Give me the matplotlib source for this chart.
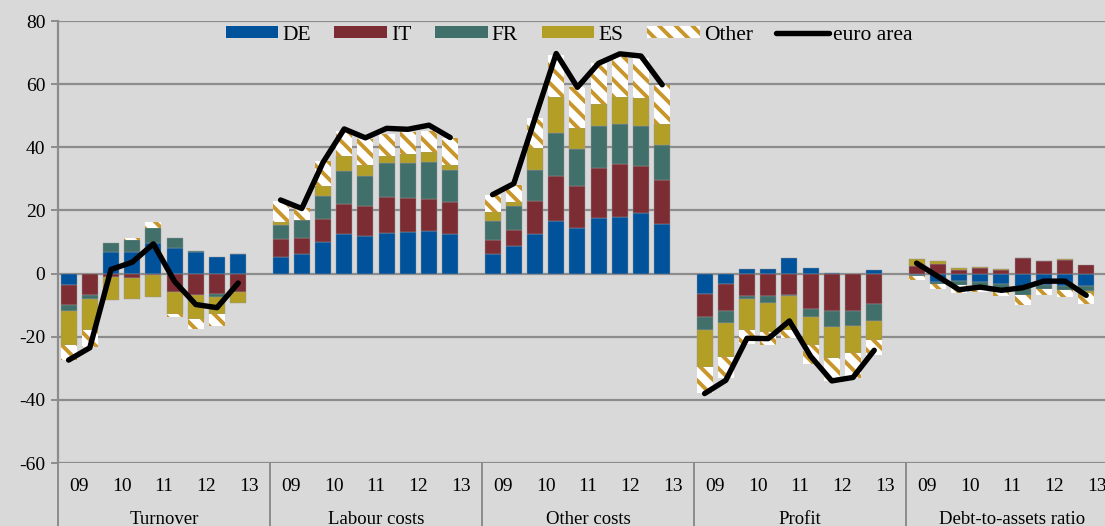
import numpy as np
import matplotlib
matplotlib.use("Agg")
import matplotlib.pyplot as plt
from matplotlib.patches import Patch
from matplotlib.lines import Line2D
import matplotlib.transforms as mtransforms

# groups and periods (half-years 2009-2013)
groups = ["Turnover", "Labour costs", "Other costs", "Profit", "Debt-to-assets ratio"]
years = ["09", "10", "11", "12", "13"]
countries = ["DE", "IT", "FR", "ES", "Other"]

# contributions per group, 9 periods each
DE = [
    [-3.7, 0.0, 6.8, 6.8, 9.7, 8.0, 6.8, 5.4, 6.2],
    [5.3, 6.1, 10.0, 12.6, 12.0, 12.9, 13.3, 13.6, 12.6],
    [6.3, 8.7, 12.6, 16.5, 14.5, 17.6, 17.8, 19.2, 15.8],
    [-6.6, -3.4, 1.6, 1.6, 5.0, 1.9, 0.3, 0.0, 1.0],
    [-0.6, -2.7, -2.4, -2.7, -3.4, -4.5, -3.7, -4.0, -4.0],
]
IT = [
    [-6.2, -6.7, -1.1, -1.3, -0.6, -5.9, -6.9, -6.6, -5.7],
    [5.5, 5.1, 7.2, 9.5, 9.5, 11.3, 10.5, 9.9, 10.0],
    [4.4, 5.2, 10.3, 14.4, 13.3, 15.8, 16.9, 15.0, 13.8],
    [-7.2, -8.5, -7.2, -7.2, -6.9, -11.1, -11.7, -11.7, -9.5],
    [2.5, 2.9, 1.2, 1.7, 1.1, 5.0, 3.9, 4.4, 2.6],
]
FR = [
    [-2.0, -1.5, 2.9, 3.9, 4.6, 3.3, 0.5, -0.8, 0.0],
    [4.7, 5.9, 7.5, 10.5, 9.5, 10.7, 11.1, 11.7, 10.3],
    [5.8, 7.4, 10.0, 13.7, 11.8, 13.2, 12.6, 12.6, 11.1],
    [-4.2, -3.6, -1.0, -2.0, -0.3, -2.7, -5.2, -5.0, -5.6],
    [-0.3, -0.5, -1.3, -1.6, -1.4, -2.4, -1.1, -1.3, -1.5],
]
ES = [
    [-10.6, -9.6, -7.4, -6.9, -6.8, -6.8, -7.4, -5.5, -3.6],
    [0.8, 0.0, 3.1, 4.6, 3.4, 2.4, 3.1, 3.3, 1.6],
    [2.9, 1.4, 6.9, 11.2, 6.5, 7.1, 8.5, 8.8, 6.6],
    [-11.6, -10.9, -9.8, -9.3, -10.8, -8.9, -9.7, -8.6, -5.8],
    [2.1, 1.0, 0.5, 0.5, 0.3, 0.0, 0.0, 0.3, -0.8],
]
Other = [
    [-5.0, -5.5, 0.0, 0.7, 2.0, -1.1, -3.2, -3.7, 0.0],
    [6.8, 3.7, 7.7, 8.0, 8.2, 6.9, 6.7, 6.7, 8.4],
    [5.6, 5.5, 9.5, 13.4, 13.1, 13.1, 12.8, 12.6, 12.5],
    [-8.2, -6.8, -4.2, -4.0, -2.3, -6.0, -7.5, -7.7, -5.0],
    [-1.0, -1.6, -2.6, -1.6, -2.3, -3.2, -2.1, -2.1, -3.2],
]
euro_area = [
    [-27.4, -23.5, 1.3, 3.6, 9.4, -2.5, -9.8, -10.8, -3.0],
    [23.3, 20.6, 35.2, 45.8, 43.0, 46.0, 45.7, 47.0, 43.1],
    [25.0, 28.5, 49.2, 69.7, 59.0, 66.6, 69.6, 68.9, 59.8],
    [-38.0, -33.8, -20.5, -20.6, -15.0, -26.2, -34.0, -32.9, -24.3],
    [3.3, -0.9, -5.1, -4.3, -5.3, -4.5, -2.4, -2.4, -6.9],
]

colors = {"DE": "#00529B", "IT": "#7C2D34", "FR": "#416F6A", "ES": "#B39E26"}
other_face = "white"
other_hatch = "#C8962A"
bg = "#D9D9D9"
grid_col = "#8C8C8C"

plt.rcParams["font.family"] = ["Liberation Serif", "DejaVu Serif"]
plt.rcParams["axes.unicode_minus"] = False
plt.rcParams["hatch.linewidth"] = 2.8

W, H = 1105, 526
fig = plt.figure(figsize=(W / 100, H / 100), dpi=100, facecolor=bg)
left, right_ext = 58, 1060
top_px, bot_px = 21, 463
ax = fig.add_axes([left / W, (H - bot_px) / H, right_ext / W, (bot_px - top_px) / H])
ax.set_facecolor(bg)

n_slots = 10
bar_w = 0.76
series = {"DE": DE, "IT": IT, "FR": FR, "ES": ES, "Other": Other}

for g in range(len(groups)):
    xs = g * n_slots + np.arange(9) + 0.5
    pos = np.zeros(9)
    neg = np.zeros(9)
    for c in countries:
        vals = np.array(series[c][g])
        bottoms = np.where(vals >= 0, pos, neg)
        if c == "Other":
            ax.bar(xs, vals, bar_w, bottom=bottoms, color=other_face,
                   edgecolor=other_hatch, hatch="\\\\", linewidth=0, zorder=3)
        else:
            ax.bar(xs, vals, bar_w, bottom=bottoms, color=colors[c],
                   edgecolor="#9A9A9A", linewidth=0.3, zorder=3)
        pos = pos + np.where(vals >= 0, vals, 0)
        neg = neg + np.where(vals < 0, vals, 0)
    ax.plot(xs, euro_area[g], color="black", linewidth=3.9, zorder=4,
            solid_capstyle="round", solid_joinstyle="round")

ax.set_xlim(0, n_slots * len(groups))
ax.set_ylim(-60, 80)
ax.set_yticks(np.arange(-60, 81, 20))
ax.yaxis.grid(True, color=grid_col, linewidth=1.6, zorder=0)
ax.set_axisbelow(True)
ax.tick_params(axis="y", length=5, width=1.4, color=grid_col, labelsize=14, pad=4)
for s in ["top", "right", "bottom"]:
    ax.spines[s].set_visible(False)
ax.spines["left"].set_color(grid_col)
ax.spines["left"].set_linewidth(1.6)

# year tick labels
xt = [g * n_slots + 2 * k + 1 for g in range(len(groups)) for k in range(len(years))]
ax.set_xticks(xt)
ax.set_xticklabels(years * len(groups))
ax.tick_params(axis="x", length=0, labelsize=14, pad=11)

# group separators and labels below the axis
trans = mtransforms.blended_transform_factory(ax.transData, ax.transAxes)
depth = (H - bot_px) / (bot_px - top_px)
for g in range(len(groups) + 1):
    ax.plot([g * n_slots, g * n_slots], [0, -depth], color=grid_col, linewidth=1.4,
            transform=trans, clip_on=False, zorder=5)
for g, name in enumerate(groups):
    ax.text(g * n_slots + n_slots / 2, -(519 - bot_px) / (bot_px - top_px), name,
            transform=trans, ha="center", va="center", fontsize=13.5)

handles = [Patch(facecolor=colors[c], label=c) for c in ["DE", "IT", "FR", "ES"]]
handles.append(Patch(facecolor=other_face, edgecolor=other_hatch, hatch="\\\\",
                     linewidth=0, label="Other"))
handles.append(Line2D([0], [0], color="black", linewidth=3.9, label="euro area",
                      solid_capstyle="round"))
fig.legend(handles=handles, loc="center", bbox_to_anchor=(569 / W, 1 - 35 / H),
           ncol=6, frameon=False, fontsize=15.5, handlelength=2.45, handleheight=0.47,
           handletextpad=0.18, columnspacing=1.1, borderpad=0)

fig.savefig("out.png", dpi=100, facecolor=bg)
